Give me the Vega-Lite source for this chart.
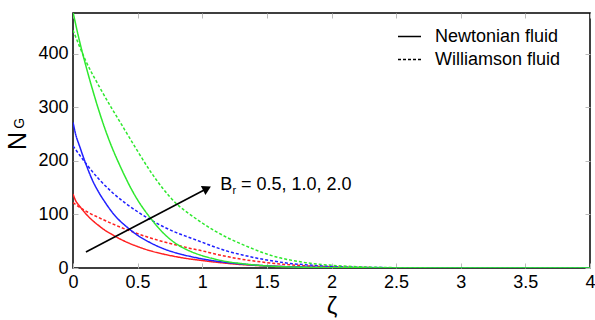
{
"$schema": "https://vega.github.io/schema/vega-lite/v6.json",
"width": 517, "height": 255,
"autosize": "none",
"padding": {"left": 73, "top": 13, "right": 5, "bottom": 52},
"config": {
  "font": "Liberation Sans",
  "view": {"stroke": "black", "strokeWidth": 1.5},
  "axis": {"labelFont": "Liberation Sans", "titleFont": "Liberation Sans", "labelColor": "black", "titleColor": "black", "titleFontWeight": "normal", "grid": false, "domain": false},
  "legend": {"labelFont": "Liberation Sans", "labelColor": "black"},
  "text": {"font": "Liberation Sans", "color": "black"}
},
"datasets": {
  "curves": [
    {"z":0,"NG":138,"Br":"0.5","fluid":"Newtonian fluid"},{"z":0.02,"NG":126,"Br":"0.5","fluid":"Newtonian fluid"},{"z":0.05,"NG":116,"Br":"0.5","fluid":"Newtonian fluid"},{"z":0.1,"NG":101,"Br":"0.5","fluid":"Newtonian fluid"},{"z":0.15,"NG":89,"Br":"0.5","fluid":"Newtonian fluid"},{"z":0.2,"NG":79,"Br":"0.5","fluid":"Newtonian fluid"},{"z":0.25,"NG":70,"Br":"0.5","fluid":"Newtonian fluid"},{"z":0.3,"NG":63,"Br":"0.5","fluid":"Newtonian fluid"},{"z":0.35,"NG":56,"Br":"0.5","fluid":"Newtonian fluid"},{"z":0.4,"NG":50,"Br":"0.5","fluid":"Newtonian fluid"},{"z":0.5,"NG":40,"Br":"0.5","fluid":"Newtonian fluid"},{"z":0.6,"NG":32,"Br":"0.5","fluid":"Newtonian fluid"},{"z":0.7,"NG":26,"Br":"0.5","fluid":"Newtonian fluid"},{"z":0.8,"NG":21,"Br":"0.5","fluid":"Newtonian fluid"},{"z":0.9,"NG":17,"Br":"0.5","fluid":"Newtonian fluid"},{"z":1.0,"NG":14,"Br":"0.5","fluid":"Newtonian fluid"},{"z":1.1,"NG":11,"Br":"0.5","fluid":"Newtonian fluid"},{"z":1.2,"NG":8.5,"Br":"0.5","fluid":"Newtonian fluid"},{"z":1.3,"NG":6.5,"Br":"0.5","fluid":"Newtonian fluid"},{"z":1.4,"NG":5,"Br":"0.5","fluid":"Newtonian fluid"},{"z":1.5,"NG":3.7,"Br":"0.5","fluid":"Newtonian fluid"},{"z":1.75,"NG":1.7,"Br":"0.5","fluid":"Newtonian fluid"},{"z":2.0,"NG":0.7,"Br":"0.5","fluid":"Newtonian fluid"},{"z":2.5,"NG":0.1,"Br":"0.5","fluid":"Newtonian fluid"},{"z":3,"NG":0,"Br":"0.5","fluid":"Newtonian fluid"},{"z":4,"NG":0,"Br":"0.5","fluid":"Newtonian fluid"},
    {"z":0,"NG":122,"Br":"0.5","fluid":"Williamson fluid"},{"z":0.1,"NG":106,"Br":"0.5","fluid":"Williamson fluid"},{"z":0.2,"NG":94,"Br":"0.5","fluid":"Williamson fluid"},{"z":0.3,"NG":83,"Br":"0.5","fluid":"Williamson fluid"},{"z":0.4,"NG":73,"Br":"0.5","fluid":"Williamson fluid"},{"z":0.5,"NG":64,"Br":"0.5","fluid":"Williamson fluid"},{"z":0.6,"NG":56,"Br":"0.5","fluid":"Williamson fluid"},{"z":0.7,"NG":49,"Br":"0.5","fluid":"Williamson fluid"},{"z":0.8,"NG":43,"Br":"0.5","fluid":"Williamson fluid"},{"z":0.9,"NG":37,"Br":"0.5","fluid":"Williamson fluid"},{"z":1.0,"NG":32,"Br":"0.5","fluid":"Williamson fluid"},{"z":1.1,"NG":26,"Br":"0.5","fluid":"Williamson fluid"},{"z":1.2,"NG":21,"Br":"0.5","fluid":"Williamson fluid"},{"z":1.3,"NG":16.5,"Br":"0.5","fluid":"Williamson fluid"},{"z":1.4,"NG":13,"Br":"0.5","fluid":"Williamson fluid"},{"z":1.5,"NG":10,"Br":"0.5","fluid":"Williamson fluid"},{"z":1.6,"NG":7.5,"Br":"0.5","fluid":"Williamson fluid"},{"z":1.7,"NG":5.5,"Br":"0.5","fluid":"Williamson fluid"},{"z":1.8,"NG":4,"Br":"0.5","fluid":"Williamson fluid"},{"z":1.9,"NG":3,"Br":"0.5","fluid":"Williamson fluid"},{"z":2.0,"NG":2,"Br":"0.5","fluid":"Williamson fluid"},{"z":2.2,"NG":1,"Br":"0.5","fluid":"Williamson fluid"},{"z":2.4,"NG":0.5,"Br":"0.5","fluid":"Williamson fluid"},{"z":2.6,"NG":0.2,"Br":"0.5","fluid":"Williamson fluid"},{"z":3,"NG":0.05,"Br":"0.5","fluid":"Williamson fluid"},{"z":4,"NG":0,"Br":"0.5","fluid":"Williamson fluid"},
    {"z":0,"NG":272,"Br":"1.0","fluid":"Newtonian fluid"},{"z":0.02,"NG":250,"Br":"1.0","fluid":"Newtonian fluid"},{"z":0.05,"NG":228,"Br":"1.0","fluid":"Newtonian fluid"},{"z":0.1,"NG":194,"Br":"1.0","fluid":"Newtonian fluid"},{"z":0.15,"NG":164,"Br":"1.0","fluid":"Newtonian fluid"},{"z":0.2,"NG":141,"Br":"1.0","fluid":"Newtonian fluid"},{"z":0.25,"NG":122,"Br":"1.0","fluid":"Newtonian fluid"},{"z":0.3,"NG":105,"Br":"1.0","fluid":"Newtonian fluid"},{"z":0.35,"NG":91,"Br":"1.0","fluid":"Newtonian fluid"},{"z":0.4,"NG":80,"Br":"1.0","fluid":"Newtonian fluid"},{"z":0.45,"NG":70,"Br":"1.0","fluid":"Newtonian fluid"},{"z":0.5,"NG":61,"Br":"1.0","fluid":"Newtonian fluid"},{"z":0.6,"NG":47,"Br":"1.0","fluid":"Newtonian fluid"},{"z":0.7,"NG":36,"Br":"1.0","fluid":"Newtonian fluid"},{"z":0.8,"NG":28,"Br":"1.0","fluid":"Newtonian fluid"},{"z":0.9,"NG":22,"Br":"1.0","fluid":"Newtonian fluid"},{"z":1.0,"NG":17,"Br":"1.0","fluid":"Newtonian fluid"},{"z":1.1,"NG":13,"Br":"1.0","fluid":"Newtonian fluid"},{"z":1.2,"NG":10,"Br":"1.0","fluid":"Newtonian fluid"},{"z":1.3,"NG":7.5,"Br":"1.0","fluid":"Newtonian fluid"},{"z":1.4,"NG":5.5,"Br":"1.0","fluid":"Newtonian fluid"},{"z":1.5,"NG":4,"Br":"1.0","fluid":"Newtonian fluid"},{"z":1.75,"NG":1.8,"Br":"1.0","fluid":"Newtonian fluid"},{"z":2.0,"NG":0.8,"Br":"1.0","fluid":"Newtonian fluid"},{"z":2.5,"NG":0.15,"Br":"1.0","fluid":"Newtonian fluid"},{"z":3,"NG":0,"Br":"1.0","fluid":"Newtonian fluid"},{"z":4,"NG":0,"Br":"1.0","fluid":"Newtonian fluid"},
    {"z":0,"NG":228,"Br":"1.0","fluid":"Williamson fluid"},{"z":0.1,"NG":195,"Br":"1.0","fluid":"Williamson fluid"},{"z":0.2,"NG":166,"Br":"1.0","fluid":"Williamson fluid"},{"z":0.3,"NG":142,"Br":"1.0","fluid":"Williamson fluid"},{"z":0.4,"NG":122,"Br":"1.0","fluid":"Williamson fluid"},{"z":0.5,"NG":105,"Br":"1.0","fluid":"Williamson fluid"},{"z":0.6,"NG":90,"Br":"1.0","fluid":"Williamson fluid"},{"z":0.7,"NG":77,"Br":"1.0","fluid":"Williamson fluid"},{"z":0.8,"NG":66,"Br":"1.0","fluid":"Williamson fluid"},{"z":0.9,"NG":57,"Br":"1.0","fluid":"Williamson fluid"},{"z":1.0,"NG":48,"Br":"1.0","fluid":"Williamson fluid"},{"z":1.1,"NG":39,"Br":"1.0","fluid":"Williamson fluid"},{"z":1.2,"NG":31,"Br":"1.0","fluid":"Williamson fluid"},{"z":1.3,"NG":25,"Br":"1.0","fluid":"Williamson fluid"},{"z":1.4,"NG":19.5,"Br":"1.0","fluid":"Williamson fluid"},{"z":1.5,"NG":15,"Br":"1.0","fluid":"Williamson fluid"},{"z":1.6,"NG":11,"Br":"1.0","fluid":"Williamson fluid"},{"z":1.7,"NG":8,"Br":"1.0","fluid":"Williamson fluid"},{"z":1.8,"NG":6,"Br":"1.0","fluid":"Williamson fluid"},{"z":1.9,"NG":4.3,"Br":"1.0","fluid":"Williamson fluid"},{"z":2.0,"NG":3,"Br":"1.0","fluid":"Williamson fluid"},{"z":2.2,"NG":1.5,"Br":"1.0","fluid":"Williamson fluid"},{"z":2.4,"NG":0.7,"Br":"1.0","fluid":"Williamson fluid"},{"z":2.6,"NG":0.3,"Br":"1.0","fluid":"Williamson fluid"},{"z":3,"NG":0.05,"Br":"1.0","fluid":"Williamson fluid"},{"z":4,"NG":0,"Br":"1.0","fluid":"Williamson fluid"},
    {"z":0,"NG":478,"Br":"2.0","fluid":"Newtonian fluid"},{"z":0.05,"NG":424,"Br":"2.0","fluid":"Newtonian fluid"},{"z":0.1,"NG":377,"Br":"2.0","fluid":"Newtonian fluid"},{"z":0.15,"NG":334,"Br":"2.0","fluid":"Newtonian fluid"},{"z":0.2,"NG":294,"Br":"2.0","fluid":"Newtonian fluid"},{"z":0.25,"NG":258,"Br":"2.0","fluid":"Newtonian fluid"},{"z":0.3,"NG":226,"Br":"2.0","fluid":"Newtonian fluid"},{"z":0.35,"NG":198,"Br":"2.0","fluid":"Newtonian fluid"},{"z":0.4,"NG":172,"Br":"2.0","fluid":"Newtonian fluid"},{"z":0.45,"NG":148,"Br":"2.0","fluid":"Newtonian fluid"},{"z":0.5,"NG":127,"Br":"2.0","fluid":"Newtonian fluid"},{"z":0.6,"NG":93,"Br":"2.0","fluid":"Newtonian fluid"},{"z":0.7,"NG":65,"Br":"2.0","fluid":"Newtonian fluid"},{"z":0.8,"NG":45,"Br":"2.0","fluid":"Newtonian fluid"},{"z":0.9,"NG":32,"Br":"2.0","fluid":"Newtonian fluid"},{"z":1.0,"NG":23,"Br":"2.0","fluid":"Newtonian fluid"},{"z":1.1,"NG":16.5,"Br":"2.0","fluid":"Newtonian fluid"},{"z":1.2,"NG":11.5,"Br":"2.0","fluid":"Newtonian fluid"},{"z":1.3,"NG":8.3,"Br":"2.0","fluid":"Newtonian fluid"},{"z":1.4,"NG":5.8,"Br":"2.0","fluid":"Newtonian fluid"},{"z":1.5,"NG":3.9,"Br":"2.0","fluid":"Newtonian fluid"},{"z":1.75,"NG":1.5,"Br":"2.0","fluid":"Newtonian fluid"},{"z":2.0,"NG":0.6,"Br":"2.0","fluid":"Newtonian fluid"},{"z":2.5,"NG":0.1,"Br":"2.0","fluid":"Newtonian fluid"},{"z":3,"NG":0,"Br":"2.0","fluid":"Newtonian fluid"},{"z":4,"NG":0,"Br":"2.0","fluid":"Newtonian fluid"},
    {"z":0,"NG":444,"Br":"2.0","fluid":"Williamson fluid"},{"z":0.1,"NG":386,"Br":"2.0","fluid":"Williamson fluid"},{"z":0.2,"NG":340,"Br":"2.0","fluid":"Williamson fluid"},{"z":0.3,"NG":298,"Br":"2.0","fluid":"Williamson fluid"},{"z":0.4,"NG":258,"Br":"2.0","fluid":"Williamson fluid"},{"z":0.5,"NG":218,"Br":"2.0","fluid":"Williamson fluid"},{"z":0.6,"NG":180,"Br":"2.0","fluid":"Williamson fluid"},{"z":0.7,"NG":147,"Br":"2.0","fluid":"Williamson fluid"},{"z":0.8,"NG":120,"Br":"2.0","fluid":"Williamson fluid"},{"z":0.9,"NG":101,"Br":"2.0","fluid":"Williamson fluid"},{"z":1.0,"NG":84,"Br":"2.0","fluid":"Williamson fluid"},{"z":1.1,"NG":69,"Br":"2.0","fluid":"Williamson fluid"},{"z":1.2,"NG":56,"Br":"2.0","fluid":"Williamson fluid"},{"z":1.3,"NG":45,"Br":"2.0","fluid":"Williamson fluid"},{"z":1.4,"NG":35,"Br":"2.0","fluid":"Williamson fluid"},{"z":1.5,"NG":26,"Br":"2.0","fluid":"Williamson fluid"},{"z":1.6,"NG":19,"Br":"2.0","fluid":"Williamson fluid"},{"z":1.7,"NG":14,"Br":"2.0","fluid":"Williamson fluid"},{"z":1.8,"NG":10,"Br":"2.0","fluid":"Williamson fluid"},{"z":1.9,"NG":7,"Br":"2.0","fluid":"Williamson fluid"},{"z":2.0,"NG":5,"Br":"2.0","fluid":"Williamson fluid"},{"z":2.2,"NG":2.5,"Br":"2.0","fluid":"Williamson fluid"},{"z":2.4,"NG":1,"Br":"2.0","fluid":"Williamson fluid"},{"z":2.6,"NG":0.4,"Br":"2.0","fluid":"Williamson fluid"},{"z":3,"NG":0.1,"Br":"2.0","fluid":"Williamson fluid"},{"z":4,"NG":0,"Br":"2.0","fluid":"Williamson fluid"}
  ],
  "arrow": [{"z1": 0.1, "n1": 30, "z2": 1.037, "n2": 148.4}],
  "annot": [{"z": 1.14, "NG": 145, "text": "B"}, {"z": 1.30, "NG": 145, "text": "= 0.5, 1.0, 2.0"}],
  "annotSub": [{"z": 1.235, "NG": 138, "text": "r"}],
  "ySub": [{"z": -0.41, "NG": 270, "text": "G"}]
},
"layer": [
  {
    "data": {"name": "curves"},
    "mark": {"type": "line", "strokeWidth": 1.5, "interpolate": "monotone", "clip": true},
    "encoding": {
      "x": {"field": "z", "type": "quantitative", "scale": {"domain": [0, 4], "nice": false, "zero": false},
        "axis": {"title": "ζ", "titleFontSize": 24, "titlePadding": 3, "values": [0, 0.5, 1, 1.5, 2, 2.5, 3, 3.5, 4], "format": "~g", "labelFontSize": 18, "tickSize": -5, "tickColor": "#bbbbbb", "labelPadding": 10, "labelFlush": false}},
      "y": {"field": "NG", "type": "quantitative", "scale": {"domain": [0, 476], "nice": false},
        "axis": {"title": "N", "titleFontSize": 25, "titlePadding": 7, "values": [0, 100, 200, 300, 400], "labelFontSize": 18, "tickSize": -5, "tickColor": "#bbbbbb", "labelPadding": 10}},
      "color": {"field": "Br", "type": "nominal", "scale": {"domain": ["0.5", "1.0", "2.0"], "range": ["#ff2020", "#2020ff", "#2ee82e"]}, "legend": null},
      "strokeDash": {"field": "fluid", "type": "nominal", "scale": {"domain": ["Newtonian fluid", "Williamson fluid"], "range": [[1, 0], [3, 2]]},
        "legend": {"title": null, "orient": "none", "legendX": 324, "legendY": 11, "padding": 0, "symbolType": "stroke", "symbolSize": 529, "symbolStrokeColor": "black", "symbolStrokeWidth": 1.5, "labelFontSize": 18, "labelOffset": 13, "rowPadding": 1}}
    }
  },
  {
    "data": {"name": "arrow"},
    "mark": {"type": "rule", "color": "black", "strokeWidth": 1.6},
    "encoding": {
      "x": {"field": "z1", "type": "quantitative", "scale": {"domain": [0, 4], "nice": false, "zero": false},
        "axis": {"orient": "top", "labels": false, "title": null, "values": [0, 0.5, 1, 1.5, 2, 2.5, 3, 3.5, 4], "tickSize": -5, "tickColor": "#bbbbbb"}},
      "y": {"field": "n1", "type": "quantitative", "scale": {"domain": [0, 476], "nice": false},
        "axis": {"orient": "right", "labels": false, "title": null, "values": [0, 100, 200, 300, 400], "tickSize": -5, "tickColor": "#bbbbbb"}},
      "x2": {"field": "z2"},
      "y2": {"field": "n2"}
    }
  },
  {
    "data": {"name": "arrow"},
    "mark": {"type": "point", "shape": "triangle-right", "filled": true, "color": "black", "opacity": 1, "size": 100, "angle": -27},
    "encoding": {
      "x": {"field": "z2", "type": "quantitative", "axis": null},
      "y": {"field": "n2", "type": "quantitative", "axis": null}
    }
  },
  {
    "data": {"name": "annot"},
    "mark": {"type": "text", "fontSize": 18, "align": "left", "baseline": "alphabetic"},
    "encoding": {
      "x": {"field": "z", "type": "quantitative", "axis": null},
      "y": {"field": "NG", "type": "quantitative", "axis": null},
      "text": {"field": "text"}
    }
  },
  {
    "data": {"name": "annotSub"},
    "mark": {"type": "text", "fontSize": 11, "align": "left", "baseline": "alphabetic"},
    "encoding": {
      "x": {"field": "z", "type": "quantitative", "axis": null},
      "y": {"field": "NG", "type": "quantitative", "axis": null},
      "text": {"field": "text"}
    }
  },
  {
    "data": {"name": "ySub"},
    "mark": {"type": "text", "fontSize": 14, "align": "center", "baseline": "middle", "angle": 270},
    "encoding": {
      "x": {"field": "z", "type": "quantitative", "axis": null},
      "y": {"field": "NG", "type": "quantitative", "axis": null},
      "text": {"field": "text"}
    }
  }
],
"resolve": {"axis": {"x": "independent", "y": "independent"}}
}
